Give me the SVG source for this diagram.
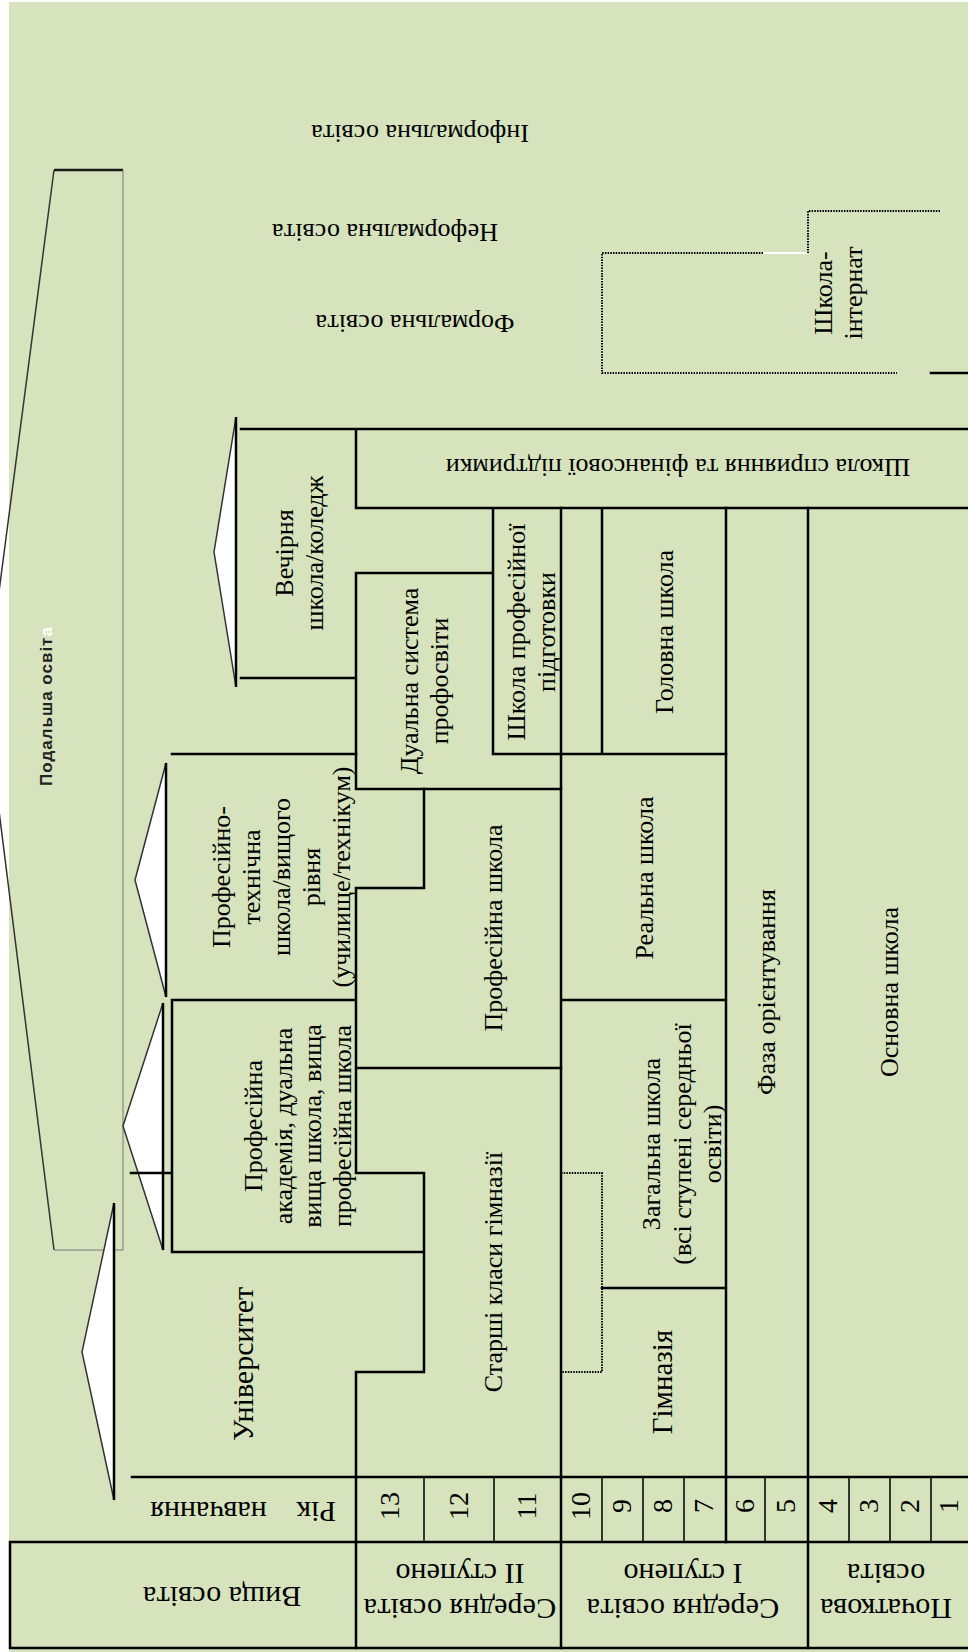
<svg xmlns="http://www.w3.org/2000/svg" width="968" height="1652" viewBox="0 0 968 1652">
<style>
.t{font-family:"Liberation Serif","Times New Roman",serif;font-size:26px;fill:#000;text-anchor:middle}
.big{font-size:30px}
.num{font-size:28px}
.s{fill:none;stroke:#000;stroke-width:2.5;stroke-linecap:square}
.thin{fill:none;stroke:#000;stroke-width:1.5}
.dot{fill:none;stroke:#000;stroke-width:2;stroke-dasharray:1.5 1.2}
.arr{fill:#fff;stroke:#333;stroke-width:1.5;stroke-linejoin:miter}
.base{stroke:#000;stroke-width:2.5}
.sans{font-family:"Liberation Sans",Arial,sans-serif;font-weight:bold;font-size:17px;letter-spacing:1px;text-anchor:middle;fill:#222}
</style>
<rect x="0" y="0" width="968" height="1652" fill="#fff"/>
<rect x="9" y="2" width="959" height="1650" fill="#d6e3bc"/>

<g id="further-education">
<polyline points="54,170 -15,699 54,1250" fill="none" stroke="#333" stroke-width="1.5"/>
<line x1="54" y1="170" x2="123" y2="170" stroke="#1a1a1a" stroke-width="2.5"/>
<line x1="123" y1="170" x2="123" y2="1250" stroke="#777" stroke-width="1"/>
<line x1="54" y1="1250" x2="123" y2="1250" stroke="#777" stroke-width="1"/>
<text class="sans" transform="translate(0,706) rotate(-90)"><tspan x="0" y="52">Подальша освіт<tspan fill="#fff">а</tspan></tspan></text>
</g>

<g id="top-labels">
<text class="t" transform="translate(420,125) rotate(180)">Інформальна освіта</text>
<text class="t" transform="translate(385,224) rotate(180)">Неформальна освіта</text>
<text class="t" transform="translate(415,315) rotate(180)">Формальна освіта</text>
</g>

<g id="boarding-school">
<path d="M602,253 L602,373 L897,373" fill="none" stroke="#fff" stroke-width="1.2"/>
<path d="M763,253 L808,253" fill="none" stroke="#fff" stroke-width="2"/>
<path class="dot" d="M940,211 L808,211 L808,253 M763,253 L602,253 L602,373 L897,373"/>
<line class="s" x1="931" y1="373" x2="968" y2="373"/>
<text class="t" transform="translate(0,293) rotate(-90)"><tspan x="0" y="832">Школа-</tspan><tspan x="0" y="862">інтернат</tspan></text>
</g>

<g id="arrows">
<polygon class="arr" points="236,417 214,552 236,687"/>
<line class="base" x1="236" y1="417" x2="236" y2="687"/>
<polygon class="arr" points="166,763 135,880 166,997"/>
<line class="base" x1="166" y1="763" x2="166" y2="997"/>
<polygon class="arr" points="163,1003 123,1126 163,1250"/>
<line class="base" x1="163" y1="1003" x2="163" y2="1250"/>
<polygon class="arr" points="114,1203 82,1352 114,1500"/>
<line class="base" x1="114" y1="1203" x2="114" y2="1500"/>
</g>

<g id="connectors">
<path class="s" d="M241,429 H968 M356,429 V508 H968 M241,678 H356 M356,573 H493 M493,508 V754 M356,573 V789 M356,789 H561 M493,754 H726 M602,508 V754"/>
<path class="s" d="M172,754 H356 M424,789 V888 H356 V1173 M172,1000 H356 M356,1068 H561 M172,1000 V1252 H424 M131,1173 H172 M356,1173 H424 V1372 H356 V1648"/>
<path class="s" d="M561,508 V1648 M561,1000 H726 M602,1288 H726 M726,508 V1542 M808,508 V1648"/>
<path class="dot" d="M561,1173 H602 V1372 H561"/>
<path class="s" d="M132,1477 H968 M10,1542 H968 M10,1648 H968 M10,1542 V1648"/>
<path class="thin" d="M424,1477 V1542 M494,1477 V1542 M602,1477 V1542 M643,1477 V1542 M684,1477 V1542 M765,1477 V1542 M849,1477 V1542 M890,1477 V1542 M931,1477 V1542"/>
</g>

<g id="evening-school">
<text class="t" transform="translate(0,553) rotate(-90)"><tspan x="0" y="293">Вечірня</tspan><tspan x="0" y="323">школа/коледж</tspan></text>
</g>
<g id="support-school">
<text class="t" transform="translate(678,459) rotate(180)">Школа сприяння та фінансової підтримки</text>
</g>
<g id="vocational-technical">
<text class="t" transform="translate(0,877) rotate(-90)"><tspan x="0" y="230">Професійно-</tspan><tspan x="0" y="260">технічна</tspan><tspan x="0" y="290">школа/вищого</tspan><tspan x="0" y="320">рівня</tspan><tspan x="0" y="350">(училище/технікум)</tspan></text>
</g>
<g id="vocational-academy">
<text class="t" transform="translate(0,1126) rotate(-90)"><tspan x="0" y="262">Професійна</tspan><tspan x="0" y="292">академія, дуальна</tspan><tspan x="0" y="321">вища школа, вища</tspan><tspan x="0" y="351">професійна школа</tspan></text>
</g>
<g id="university">
<text class="t big" transform="translate(0,1364) rotate(-90)"><tspan x="0" y="253">Університет</tspan></text>
</g>
<g id="dual-system">
<text class="t" transform="translate(0,681) rotate(-90)"><tspan x="0" y="418">Дуальна система</tspan><tspan x="0" y="448">профосвіти</tspan></text>
</g>
<g id="vocational-prep">
<text class="t" transform="translate(0,632) rotate(-90)"><tspan x="0" y="525">Школа професійної</tspan><tspan x="0" y="555">підготовки</tspan></text>
</g>
<g id="vocational-school">
<text class="t" transform="translate(0,928) rotate(-90)"><tspan x="0" y="502">Професійна школа</tspan></text>
</g>
<g id="upper-gymnasium">
<text class="t" transform="translate(0,1272) rotate(-90)"><tspan x="0" y="502">Старші класи гімназії</tspan></text>
</g>
<g id="main-school">
<text class="t" transform="translate(0,632) rotate(-90)"><tspan x="0" y="673">Головна школа</tspan></text>
</g>
<g id="real-school">
<text class="t" transform="translate(0,878) rotate(-90)"><tspan x="0" y="653">Реальна школа</tspan></text>
</g>
<g id="comprehensive-school">
<text class="t" transform="translate(0,1144) rotate(-90)"><tspan x="0" y="660">Загальна школа</tspan><tspan x="0" y="691">(всі ступені середньої</tspan><tspan x="0" y="721">освіти)</tspan></text>
</g>
<g id="gymnasium">
<text class="t" style="font-size:29px" transform="translate(0,1382) rotate(-90)"><tspan x="0" y="672">Гімназія</tspan></text>
</g>
<g id="orientation">
<text class="t" transform="translate(0,992) rotate(-90)"><tspan x="0" y="775">Фаза орієнтування</tspan></text>
</g>
<g id="primary-school">
<text class="t" transform="translate(0,992) rotate(-90)"><tspan x="0" y="898">Основна школа</tspan></text>
</g>

<g id="years">
<text class="t big" word-spacing="22" transform="translate(243,1502) rotate(180)">Рік навчання</text>
<g class="t num">
<text transform="translate(390,1506) rotate(-90)" y="9">13</text>
<text transform="translate(459,1506) rotate(-90)" y="9">12</text>
<text transform="translate(527,1506) rotate(-90)" y="9">11</text>
<text transform="translate(581,1506) rotate(-90)" y="9">10</text>
<text transform="translate(622,1506) rotate(-90)" y="9">9</text>
<text transform="translate(663,1506) rotate(-90)" y="9">8</text>
<text transform="translate(704,1506) rotate(-90)" y="9">7</text>
<text transform="translate(745,1506) rotate(-90)" y="9">6</text>
<text transform="translate(786,1506) rotate(-90)" y="9">5</text>
<text transform="translate(828,1506) rotate(-90)" y="9">4</text>
<text transform="translate(869,1506) rotate(-90)" y="9">3</text>
<text transform="translate(910,1506) rotate(-90)" y="9">2</text>
<text transform="translate(949,1506) rotate(-90)" y="9">1</text>
</g>
</g>

<g id="levels">
<text class="t big" transform="translate(222,1587) rotate(180)">Вища освіта</text>
<text class="t big" transform="translate(460,1599) rotate(180)"><tspan x="0" y="0">Середня освіта</tspan><tspan x="0" y="35">II ступено</tspan></text>
<text class="t big" transform="translate(683,1599) rotate(180)"><tspan x="0" y="0">Середня освіта</tspan><tspan x="0" y="35">I ступено</tspan></text>
<text class="t big" transform="translate(886,1599) rotate(180)"><tspan x="0" y="0">Початкова</tspan><tspan x="0" y="35">освіта</tspan></text>
</g>
</svg>
